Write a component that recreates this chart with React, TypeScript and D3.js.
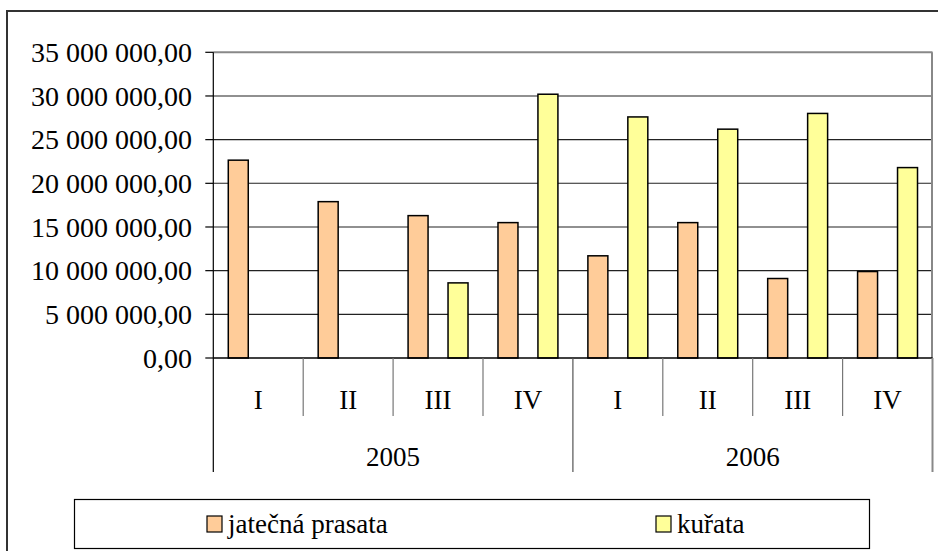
import React from 'react';
import * as d3 from 'd3';

const quarters = ['I', 'II', 'III', 'IV', 'I', 'II', 'III', 'IV'];
const years = ['2005', '2006'];
const seriesNames = ['jatečná prasata', 'kuřata'];
const seriesColors = ['#FFCC99', '#FFFF99'];
const pigValues = [22650000, 17900000, 16300000, 15500000, 11700000, 15500000, 9100000, 9900000];
const chickenValues = [0, 0, 8600000, 30200000, 27600000, 26200000, 28000000, 21800000];
const yTicks = [0, 5000000, 10000000, 15000000, 20000000, 25000000, 30000000, 35000000];

const W = 938;
const H = 551;
const left = 213.3;
const right = 932.5;
const top = 52.3;
const bottom = 358;
const font = "'Liberation Serif'";

const czLocale = d3.formatLocale({ decimal: ',', thousands: '\u00a0', grouping: [3], currency: ['', ' Kč'] });
const fmt = czLocale.format(',.2f');

export default function App() {
  const keys = quarters.map((_, i) => String(i));
  const x = d3.scaleBand().domain(keys).range([left, right]).padding(0);
  const inner = d3.scaleBand().domain(['0', '1']).range([0, x.bandwidth()]).paddingInner(0.5).paddingOuter(0.375);
  const y = d3.scaleLinear().domain([0, 35000000]).range([bottom, top]);
  const series = [pigValues, chickenValues];

  const yearX = years.map((_, j) => [x(String(j * 4))!, x(String(j * 4 + 3))! + x.bandwidth()]);
  const txt = { fontFamily: font, fontSize: 27 };

  return (
    <svg width={W} height={H} style={{ position: 'absolute', left: 0, top: 0 }}>
      <rect x={0} y={0} width={W} height={H} fill="#fff" />
      {/* outer chart border */}
      <rect x={7} y={11} width={W + 20} height={H + 20} fill="none" stroke="#333" strokeWidth={2} />

      {/* gridlines */}
      {yTicks.slice(1, -1).map((t) => (
        <line key={t} x1={left} x2={right} y1={y(t)} y2={y(t)} stroke="#222" strokeWidth={1.1} />
      ))}
      {/* plot area border (top/right) */}
      <line x1={left} x2={right} y1={y(35000000)} y2={y(35000000)} stroke="#888" strokeWidth={2} />
      <line x1={right - 0.5} x2={right - 0.5} y1={top} y2={bottom} stroke="#888" strokeWidth={2} />

      {/* bars */}
      {series.map((vals, s) =>
        vals.map((v, i) =>
          v > 0 ? (
            <rect
              key={`${s}-${i}`}
              x={x(String(i))! + inner(String(s))!}
              y={y(v)}
              width={inner.bandwidth()}
              height={y(0) - y(v)}
              fill={seriesColors[s]}
              stroke="#000"
              strokeWidth={1.5}
            />
          ) : null
        )
      )}

      {/* y axis */}
      <line x1={left} x2={left} y1={top} y2={472} stroke="#000" strokeWidth={1.2} />
      {yTicks.map((t) => (
        <g key={t}>
          <line x1={left - 8} x2={left} y1={y(t)} y2={y(t)} stroke="#000" strokeWidth={1.2} />
          <text x={192} y={y(t)} dy="0.35em" textAnchor="end" style={{ ...txt, fontSize: 28 }}>
            {fmt(t)}
          </text>
        </g>
      ))}
      <line x1={left} x2={right} y1={bottom} y2={bottom} stroke="#000" strokeWidth={1.5} />

      {/* category axis */}
      {keys.map((k, i) => (
        <g key={k}>
          {i > 0 && i % 4 !== 0 ? (
            <line x1={x(k)!} x2={x(k)!} y1={bottom} y2={416} stroke="#777" strokeWidth={1.2} />
          ) : null}
          <text x={x(k)! + x.bandwidth() / 2} y={400} dy="0.35em" textAnchor="middle" style={txt}>
            {quarters[i]}
          </text>
        </g>
      ))}
      {yearX.map(([a, b], j) => (
        <g key={years[j]}>
          <line x1={b} x2={b} y1={bottom} y2={472} stroke={j === years.length - 1 ? '#888' : '#555'} strokeWidth={j === years.length - 1 ? 2 : 1.2} />
          <text x={(a + b) / 2} y={457} dy="0.35em" textAnchor="middle" style={txt}>
            {years[j]}
          </text>
        </g>
      ))}

      {/* legend */}
      <rect x={74.5} y={499.5} width={795} height={49} fill="#fff" stroke="#000" strokeWidth={1.2} />
      {seriesNames.map((n, s) => {
        const lx = [207, 656][s];
        return (
          <g key={n}>
            <rect x={lx} y={516} width={15} height={16} fill={seriesColors[s]} stroke="#000" strokeWidth={1.2} />
            <text x={lx + 21} y={524} dy="0.35em" style={txt}>
              {n}
            </text>
          </g>
        );
      })}
    </svg>
  );
}
